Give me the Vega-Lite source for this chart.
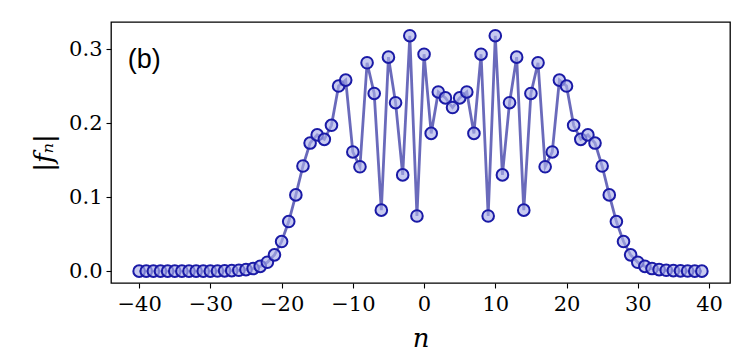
{
  "$schema": "https://vega.github.io/schema/vega-lite/v6.json",
  "autosize": "none",
  "padding": {"left": 111, "top": 22, "right": 17, "bottom": 76},
  "width": 619,
  "height": 261,
  "background": "white",
  "config": {
    "view": {"stroke": "black", "strokeWidth": 1.3},
    "axis": {
      "domain": false,
      "grid": false,
      "ticks": true,
      "tickColor": "black",
      "tickSize": 5,
      "tickWidth": 1.1,
      "labelFont": "DejaVu Serif",
      "labelFontSize": 21,
      "labelColor": "black",
      "titleFont": "DejaVu Serif",
      "titleFontSize": 26,
      "titleFontStyle": "italic",
      "titleFontWeight": "normal",
      "titleColor": "black"
    }
  },
  "data": {
    "values": [
      {"n": -40, "f": 0.0}, {"n": -39, "f": 0.0}, {"n": -38, "f": 0.0}, {"n": -37, "f": 0.0},
      {"n": -36, "f": 0.0}, {"n": -35, "f": 0.0}, {"n": -34, "f": 0.0}, {"n": -33, "f": 0.0},
      {"n": -32, "f": 0.0}, {"n": -31, "f": 0.0}, {"n": -30, "f": 0.0}, {"n": -29, "f": 0.0002},
      {"n": -28, "f": 0.0004}, {"n": -27, "f": 0.0007}, {"n": -26, "f": 0.0012}, {"n": -25, "f": 0.002},
      {"n": -24, "f": 0.0035}, {"n": -23, "f": 0.0065}, {"n": -22, "f": 0.012}, {"n": -21, "f": 0.022},
      {"n": -20, "f": 0.040}, {"n": -19, "f": 0.067}, {"n": -18, "f": 0.103}, {"n": -17, "f": 0.142},
      {"n": -16, "f": 0.173}, {"n": -15, "f": 0.184}, {"n": -14, "f": 0.178}, {"n": -13, "f": 0.197},
      {"n": -12, "f": 0.250}, {"n": -11, "f": 0.258}, {"n": -10, "f": 0.161}, {"n": -9, "f": 0.141},
      {"n": -8, "f": 0.2815}, {"n": -7, "f": 0.240}, {"n": -6, "f": 0.0824}, {"n": -5, "f": 0.289},
      {"n": -4, "f": 0.2275}, {"n": -3, "f": 0.130}, {"n": -2, "f": 0.318}, {"n": -1, "f": 0.0745},
      {"n": 0, "f": 0.293}, {"n": 1, "f": 0.186}, {"n": 2, "f": 0.242}, {"n": 3, "f": 0.234},
      {"n": 4, "f": 0.221}, {"n": 5, "f": 0.234}, {"n": 6, "f": 0.242}, {"n": 7, "f": 0.186},
      {"n": 8, "f": 0.293}, {"n": 9, "f": 0.0745}, {"n": 10, "f": 0.318}, {"n": 11, "f": 0.130},
      {"n": 12, "f": 0.2275}, {"n": 13, "f": 0.289}, {"n": 14, "f": 0.0824}, {"n": 15, "f": 0.240},
      {"n": 16, "f": 0.2815}, {"n": 17, "f": 0.141}, {"n": 18, "f": 0.161}, {"n": 19, "f": 0.258},
      {"n": 20, "f": 0.250}, {"n": 21, "f": 0.197}, {"n": 22, "f": 0.178}, {"n": 23, "f": 0.184},
      {"n": 24, "f": 0.173}, {"n": 25, "f": 0.142}, {"n": 26, "f": 0.103}, {"n": 27, "f": 0.067},
      {"n": 28, "f": 0.040}, {"n": 29, "f": 0.022}, {"n": 30, "f": 0.012}, {"n": 31, "f": 0.0065},
      {"n": 32, "f": 0.0035}, {"n": 33, "f": 0.002}, {"n": 34, "f": 0.0012}, {"n": 35, "f": 0.0007},
      {"n": 36, "f": 0.0004}, {"n": 37, "f": 0.0002}, {"n": 38, "f": 0.0}, {"n": 39, "f": 0.0}
    ]
  },
  "encoding": {
    "x": {
      "field": "n", "type": "quantitative",
      "scale": {"domain": [-43.95, 42.95], "nice": false, "zero": false},
      "axis": {"values": [-40, -30, -20, -10, 0, 10, 20, 30, 40], "format": "d", "labelExpr": "replace(datum.label, '-', '−')", "labelPadding": 5, "title": "n", "titlePadding": 11}
    },
    "y": {
      "field": "f", "type": "quantitative",
      "scale": {"domain": [-0.016, 0.3365], "nice": false, "zero": false},
      "axis": {"values": [0, 0.1, 0.2, 0.3], "format": ".1f", "labelPadding": 4, "title": "|fₙ|", "titlePadding": 11}
    }
  },
  "layer": [
    {
      "mark": {"type": "line", "color": "#5a5ab4", "strokeWidth": 2.8, "opacity": 0.9}
    },
    {
      "mark": {"type": "point", "shape": "circle", "filled": true, "size": 135, "fill": "#a9aee8", "fillOpacity": 0.65, "stroke": "#1a1aa6", "strokeWidth": 2, "opacity": 1}
    },
    {
      "data": {"values": [{"n": -41.6, "f": 0.285, "label": "(b)"}]},
      "mark": {"type": "text", "align": "left", "baseline": "middle", "font": "Liberation Sans", "fontSize": 27, "color": "black"},
      "encoding": {"text": {"field": "label"}}
    }
  ]
}
